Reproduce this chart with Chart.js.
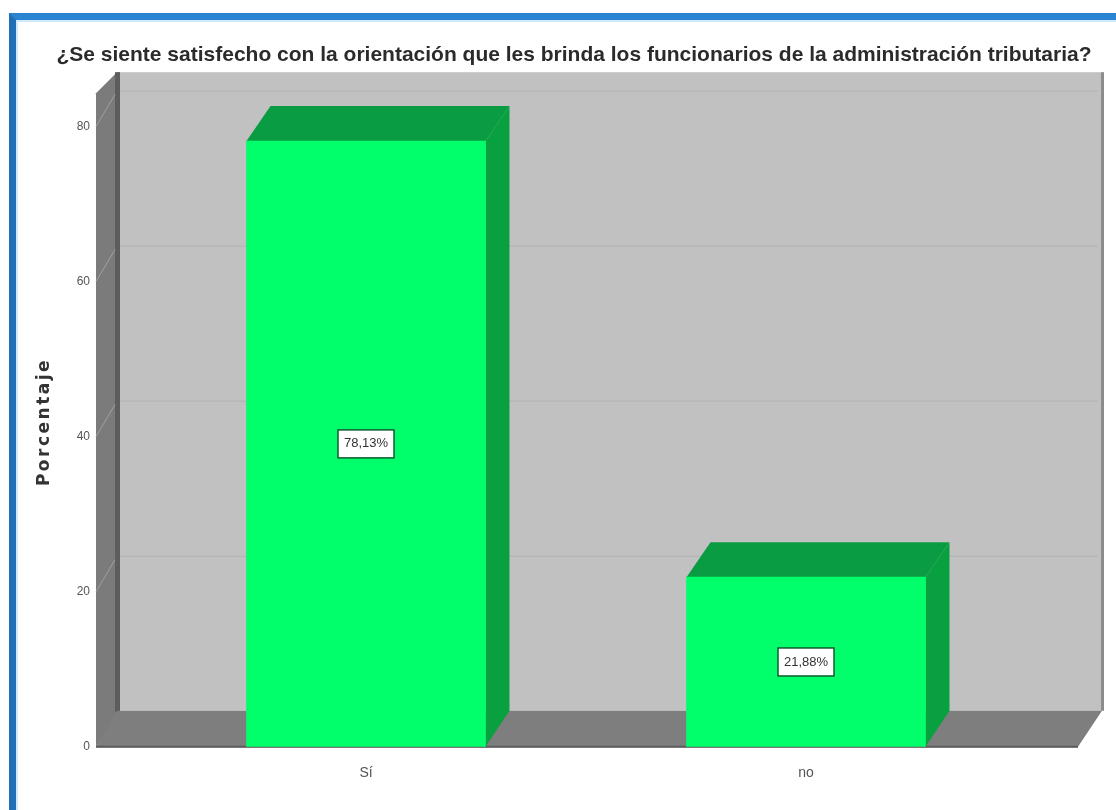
<!DOCTYPE html>
<html>
<head>
<meta charset="utf-8">
<style>
  html, body { margin: 0; padding: 0; background: #fff; overflow: hidden; }
  #frame { position: absolute; left: 9px; top: 13px; width: 1107px; height: 797px; box-sizing: border-box;
           border-top: 7px solid #2a84cf; border-left: 7px solid #1f6fb4; box-shadow: inset 2px 2px 0 #cfe8fb; }
  #wrap { position: absolute; left: 0; top: 0; width: 1116px; height: 810px; }
</style>
</head>
<body>
<div id="frame"></div>
<div id="wrap"><canvas id="chart" width="1116" height="810"></canvas></div>
<script src="https://cdn.jsdelivr.net/npm/chart.js@4/dist/chart.umd.min.js"></script>
<script>
const chartTitle = '¿Se siente satisfecho con la orientación que les brinda los funcionarios de la administración tributaria?';
const yAxisTitle = 'Porcentaje';
const categories = ['Sí', 'no'];
const percentages = [78.13, 21.88];
const percentLabels = ['78,13%', '21,88%'];

// profundidad del efecto 3D
const depthX = 24;
const depthY = 36;

function polygon(ctx, points, color) {
    ctx.fillStyle = color;
    ctx.beginPath();
    points.forEach((p, i) => i ? ctx.lineTo(p[0], p[1]) : ctx.moveTo(p[0], p[1]));
    ctx.closePath();
    ctx.fill();
}

const box3d = {
    id: 'box3d',
    beforeDatasetsDraw(chart) {
        const ctx = chart.ctx;
        const yScale = chart.scales.y;
        const left = 96, right = 1078, bottom = yScale.bottom, top = yScale.top;
        ctx.save();

        // pared del fondo
        ctx.fillStyle = '#c1c1c1';
        ctx.fillRect(left + depthX, top, right - left, bottom - depthY - top);
        ctx.fillStyle = '#8c8c8c';
        ctx.fillRect(right + depthX - 1, top, 3, bottom - depthY - top);

        // pared izquierda
        polygon(ctx, [[left, top + 21], [left + depthX - 3, top], [left + depthX, top], [left + depthX, bottom - depthY], [left, bottom]], '#7b7b7b');
        ctx.fillStyle = '#5d5d5d';
        ctx.fillRect(left + depthX - 5, top, 5, bottom - depthY - top + 1);

        // piso
        polygon(ctx, [[left, bottom], [left + depthX - 3, bottom - depthY], [right + depthX, bottom - depthY], [right, bottom]], '#7e7e7e');
        ctx.fillStyle = '#5a5a5a';
        ctx.fillRect(left, bottom - 1, right - left, 2);

        // lineas de la cuadricula
        yScale.ticks.forEach(t => {
            if (t.value === 0) return;
            const y = yScale.getPixelForValue(t.value);
            ctx.strokeStyle = '#b2b2b2';
            ctx.lineWidth = 1;
            ctx.beginPath();
            ctx.moveTo(left + depthX, y - depthY + 0.5);
            ctx.lineTo(right + depthX - 4, y - depthY + 0.5);
            ctx.stroke();
            ctx.strokeStyle = '#a0a0a0';
            ctx.beginPath();
            ctx.moveTo(left, y);
            ctx.lineTo(left + depthX - 5, y - depthY + 4);
            ctx.stroke();
        });

        // caras superior y lateral de las barras
        chart.getDatasetMeta(0).data.forEach(bar => {
            const x0 = bar.x - bar.width / 2;
            const x1 = bar.x + bar.width / 2;
            polygon(ctx, [[x0, bar.y], [x0 + depthX, bar.y - depthY + 1], [x1 + depthX, bar.y - depthY + 1], [x1, bar.y]], '#0a9c42');
            polygon(ctx, [[x1, bar.y], [x1 + depthX, bar.y - depthY + 1], [x1 + depthX, bottom - depthY], [x1, bottom]], '#09a040');
        });
        ctx.restore();
    },
    afterDatasetsDraw(chart) {
        const ctx = chart.ctx;
        ctx.save();
        // etiquetas de porcentaje
        ctx.font = '13px "Liberation Sans Narrow", "Liberation Sans", sans-serif';
        ctx.textAlign = 'center';
        ctx.textBaseline = 'middle';
        chart.getDatasetMeta(0).data.forEach((bar, i) => {
            const cy = (bar.y + chart.scales.y.bottom) / 2;
            ctx.fillStyle = '#fff';
            ctx.fillRect(bar.x - 28, cy - 14, 56, 28);
            ctx.strokeStyle = '#0b5c2c';
            ctx.lineWidth = 1.5;
            ctx.strokeRect(bar.x - 28, cy - 14, 56, 28);
            ctx.fillStyle = '#333';
            ctx.fillText(percentLabels[i], bar.x, cy);
        });

        // titulo del eje y
        ctx.translate(45, 422);
        ctx.rotate(-Math.PI / 2);
        ctx.font = 'bold 17px "DejaVu Sans", sans-serif';
        ctx.letterSpacing = '2.5px';
        ctx.fillStyle = '#333';
        ctx.fillText(yAxisTitle, 0, 0);
        ctx.restore();
    }
};

new Chart(document.getElementById('chart'), {
    type: 'bar',
    data: {
        labels: categories,
        datasets: [{
            data: percentages,
            backgroundColor: '#00ff6a',
            barThickness: 239
        }]
    },
    options: {
        responsive: false,
        animation: false,
        layout: { padding: { left: 32, right: 0, top: 0, bottom: 8 } },
        plugins: {
            legend: { display: false },
            tooltip: { enabled: false },
            title: {
                display: true,
                text: chartTitle,
                color: '#2b2b2b',
                font: { family: '"Liberation Sans", sans-serif', size: 21, weight: 'bold' },
                padding: { top: 43, bottom: 4 }
            }
        },
        scales: {
            x: {
                grid: { display: false },
                border: { display: false },
                ticks: { color: '#555', padding: 10, font: { family: '"Liberation Sans", sans-serif', size: 14 } }
            },
            y: {
                min: 0,
                max: 87,
                afterFit(scale) { scale.width = 114; },
                grid: { display: false, drawTicks: false },
                border: { display: false },
                ticks: {
                    stepSize: 20,
                    includeBounds: false,
                    color: '#555',
                    padding: 56,
                    font: { family: '"Liberation Sans", sans-serif', size: 12 }
                }
            },
            // eje vacio: reserva el espacio de la derecha para el piso
            yRight: {
                position: 'right',
                afterFit(scale) { scale.width = 90; },
                grid: { display: false, drawTicks: false },
                border: { display: false },
                ticks: { display: false }
            }
        }
    },
    plugins: [box3d]
});
</script>
</body>
</html>
